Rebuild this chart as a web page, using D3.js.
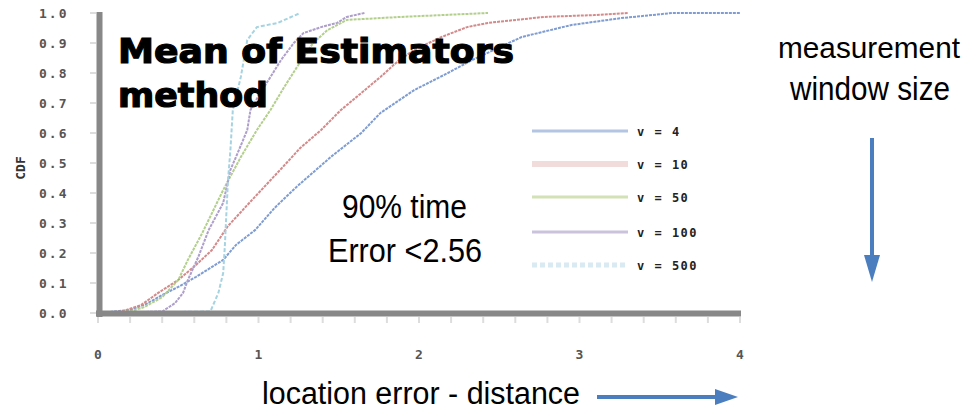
<!DOCTYPE html>
<html>
<head>
<meta charset="utf-8">
<script src="https://cdn.jsdelivr.net/npm/d3@7"></script>
<style>
  body { margin: 0; background: #fff; }
</style>
</head>
<body>
<div class="graph1"></div>
<script>
// CDF curves, [error, cdf]
const v4 = [[0,0],[0.2,0.01],[0.3,0.03],[0.4,0.06],[0.5,0.087],[0.61,0.12],[0.78,0.177],[0.86,0.227],[0.98,0.277],[1.1,0.35],[1.23,0.417],[1.45,0.52],[1.64,0.6],[1.76,0.667],[1.97,0.743],[2.18,0.8],[2.33,0.843],[2.64,0.92],[2.95,0.96],[3.26,0.983],[3.58,1.0],[4.0,1.0]];
const v10 = [[0,0],[0.15,0.005],[0.27,0.027],[0.375,0.067],[0.5,0.11],[0.61,0.16],[0.71,0.21],[0.81,0.29],[0.96,0.377],[1.14,0.48],[1.26,0.55],[1.39,0.61],[1.51,0.675],[1.64,0.733],[1.76,0.787],[1.87,0.84],[1.97,0.877],[2.14,0.92],[2.3,0.953],[2.43,0.967],[2.78,0.987],[3.09,0.993],[3.3,1.0]];
const v50 = [[0,0],[0.2,0.005],[0.29,0.02],[0.4,0.053],[0.5,0.11],[0.56,0.177],[0.65,0.267],[0.71,0.333],[0.78,0.41],[0.89,0.52],[0.99,0.61],[1.075,0.677],[1.16,0.753],[1.24,0.82],[1.34,0.9],[1.43,0.943],[1.55,0.977],[1.89,0.987],[2.43,1.0]];
const v100 = [[0,0],[0.4,0.005],[0.48,0.033],[0.53,0.067],[0.56,0.11],[0.625,0.187],[0.69,0.277],[0.78,0.367],[0.825,0.477],[0.87,0.533],[0.93,0.61],[0.95,0.677],[1.01,0.733],[1.075,0.787],[1.14,0.843],[1.22,0.9],[1.28,0.933],[1.39,0.953],[1.49,0.967],[1.55,0.987],[1.66,1.0]];
const v500 = [[0,0],[0.7,0.005],[0.75,0.067],[0.78,0.133],[0.79,0.22],[0.8,0.333],[0.81,0.443],[0.825,0.543],[0.84,0.677],[0.89,0.787],[0.93,0.91],[0.99,0.953],[1.12,0.967],[1.26,1.0]];

const seriesNames = ["v = 4", "v = 10", "v = 50", "v = 100", "v = 500"];
const seriesData = [v4, v10, v50, v100, v500];
const lineColors = ["#7f9dd2", "#d38a8a", "#b3cf8c", "#ae9ecb", "#a6d3e2"];
const legendColors = ["#b3c5e3", "#f1dbdb", "#d2e2b6", "#cbc2dc", "#d9eaf3"];
const legendWidths = [3, 6, 3, 3, 5];

const xTicks = [0, 1, 2, 3, 4];
const yTicks = [0, 0.1, 0.2, 0.3, 0.4, 0.5, 0.6, 0.7, 0.8, 0.9, 1.0];

const width = 967, height = 411;

const svg = d3.select(".graph1")
    .append("svg")
    .attr("width", width)
    .attr("height", height);

const xscale = d3.scaleLinear().domain([0, 4]).range([98, 740]);
const yscale = d3.scaleLinear().domain([0, 1]).range([313, 13]);

const tickFont = "DejaVu Sans Mono, monospace";

// y ticks + labels
svg.selectAll(".ytick")
    .data(yTicks)
    .enter()
    .append("line")
    .attr("x1", 90)
    .attr("x2", 96)
    .attr("y1", d => yscale(d))
    .attr("y2", d => yscale(d))
    .attr("stroke", "#ddd")
    .attr("stroke-width", 2);
svg.selectAll(".ylab")
    .data(yTicks)
    .enter()
    .append("text")
    .attr("x", 39)
    .attr("y", d => yscale(d) + 5)
    .attr("font-family", tickFont)
    .attr("font-size", 13)
    .attr("font-weight", "bold")
    .attr("letter-spacing", 2)
    .attr("fill", "#555")
    .text(d => d.toFixed(1));

// x ticks every 0.2 + labels
svg.selectAll(".xtick")
    .data(d3.range(0, 4.01, 0.2))
    .enter()
    .append("line")
    .attr("x1", d => xscale(d))
    .attr("x2", d => xscale(d))
    .attr("y1", 317)
    .attr("y2", 323)
    .attr("stroke", "#ddd")
    .attr("stroke-width", 2);
svg.selectAll(".xlab")
    .data(xTicks)
    .enter()
    .append("text")
    .attr("x", d => xscale(d))
    .attr("y", 359)
    .attr("text-anchor", "middle")
    .attr("font-family", tickFont)
    .attr("font-size", 13)
    .attr("font-weight", "bold")
    .attr("fill", "#555")
    .text(d => d);

// curves
const line = d3.line()
    .x(d => xscale(d[0]))
    .y(d => yscale(d[1]));
svg.selectAll(".curve")
    .data(seriesData)
    .enter()
    .append("path")
    .attr("d", line)
    .attr("fill", "none")
    .attr("stroke", (d, i) => lineColors[i])
    .attr("stroke-width", 2)
    .attr("stroke-dasharray", (d, i) => i === 4 ? "4,2" : "3,1");

// axes (thick gray bars)
svg.append("line")
    .attr("x1", 99.5).attr("x2", 99.5)
    .attr("y1", 12).attr("y2", 317)
    .attr("stroke", "#888").attr("stroke-width", 6);
svg.append("line")
    .attr("x1", 96).attr("x2", 741)
    .attr("y1", 313.5).attr("y2", 313.5)
    .attr("stroke", "#888").attr("stroke-width", 6);

// y title
svg.append("text")
    .attr("transform", "translate(25,168) rotate(-90)")
    .attr("text-anchor", "middle")
    .attr("font-family", tickFont)
    .attr("font-size", 13)
    .attr("font-weight", "bold")
    .attr("fill", "#333")
    .text("CDF");

// legend
const legend = svg.selectAll(".legend")
    .data(seriesNames)
    .enter()
    .append("g")
    .attr("transform", (d, i) => "translate(0," + [131, 164, 197, 232, 265][i] + ")");
legend.append("line")
    .attr("x1", 532).attr("x2", 628)
    .attr("y1", 0).attr("y2", 0)
    .attr("stroke", (d, i) => legendColors[i])
    .attr("stroke-width", (d, i) => legendWidths[i])
    .attr("stroke-dasharray", (d, i) => i === 4 ? "5,3" : null);
legend.append("text")
    .attr("x", 637)
    .attr("y", 5)
    .attr("font-family", tickFont)
    .attr("font-size", 12)
    .attr("font-weight", "bold")
    .attr("letter-spacing", 1.5)
    .attr("fill", "#222")
    .text(d => d);

// title
const title = svg.append("text")
    .attr("font-family", "DejaVu Sans, sans-serif")
    .attr("font-weight", "bold")
    .attr("font-size", 33)
    .attr("fill", "#000")
    .attr("stroke", "#000")
    .attr("stroke-width", 1.2);
title.append("tspan").attr("x", 118).attr("y", 63).attr("textLength", 396).attr("lengthAdjust", "spacingAndGlyphs").text("Mean of Estimators");
title.append("tspan").attr("x", 118).attr("y", 107).attr("textLength", 150).attr("lengthAdjust", "spacingAndGlyphs").text("method");

// annotations
const big = (txt, x, y, w, fs) => svg.append("text")
    .attr("x", x)
    .attr("y", y)
    .attr("font-family", "Liberation Sans, Arial, sans-serif")
    .attr("font-size", fs || 33)
    .attr("fill", "#000")
    .attr("textLength", w)
    .attr("lengthAdjust", "spacingAndGlyphs")
    .text(txt);
big("90% time", 342, 218, 125);
big("Error <2.56", 328, 262, 154);
big("measurement", 778, 58, 182, 30);
big("window size", 790, 100, 160);
big("location error - distance", 262, 404, 318, 31);

// arrows
svg.append("line")
    .attr("x1", 872).attr("x2", 872)
    .attr("y1", 138).attr("y2", 258)
    .attr("stroke", "#4a7ebf").attr("stroke-width", 4);
svg.append("path")
    .attr("d", "M864,255 L880,255 L872,282 Z")
    .attr("fill", "#4a7ebf");
svg.append("line")
    .attr("x1", 597).attr("x2", 718)
    .attr("y1", 397).attr("y2", 397)
    .attr("stroke", "#4a7ebf").attr("stroke-width", 4);
svg.append("path")
    .attr("d", "M715,389 L715,405 L738,397 Z")
    .attr("fill", "#4a7ebf");
</script>
</body>
</html>
